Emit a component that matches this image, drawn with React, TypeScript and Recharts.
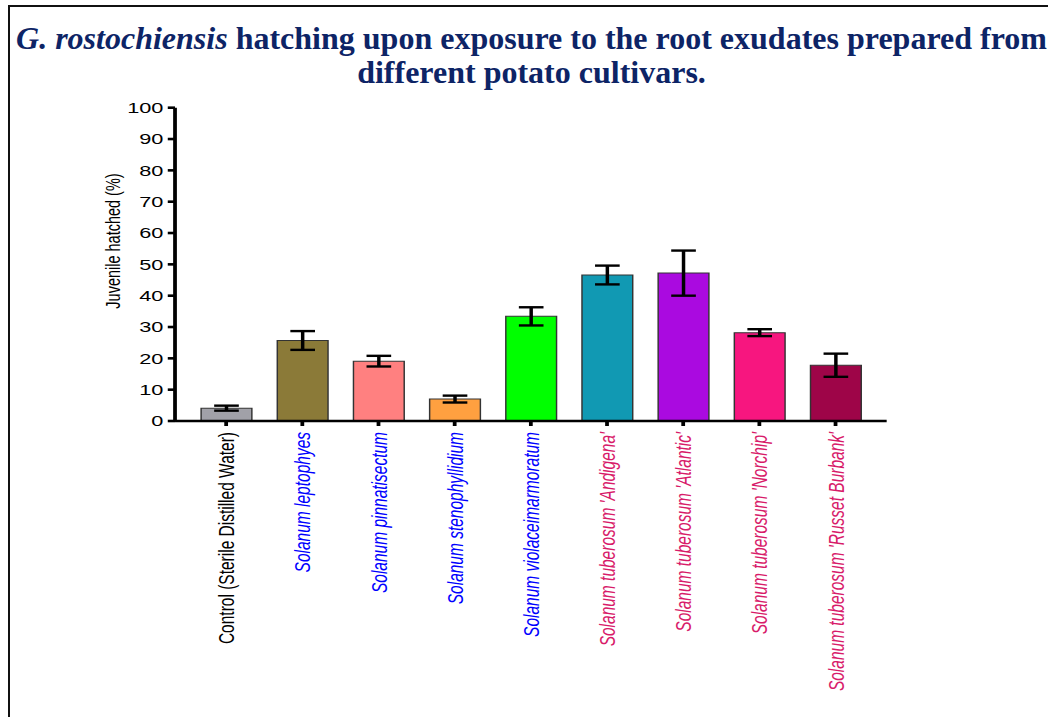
import React from "react";
import { BarChart, Bar, Cell, XAxis, YAxis, ErrorBar } from "recharts";

// Hatching data: mean % juveniles hatched and the error (± SEM) per exudate source.
const SPECIES = [
  "Control (Sterile Distilled Water)",
  "Solanum leptophyes",
  "Solanum pinnatisectum",
  "Solanum stenophyllidium",
  "Solanum violaceimarmoratum",
  "Solanum tuberosum 'Andigena'",
  "Solanum tuberosum 'Atlantic'",
  "Solanum tuberosum 'Norchip'",
  "Solanum tuberosum 'Russet Burbank'",
];
const HATCHED = [4.1, 25.7, 19.1, 7.0, 33.4, 46.6, 47.2, 28.2, 17.8];
const HATCHED_ERR = [0.8, 3.0, 1.7, 1.1, 2.9, 3.0, 7.2, 1.1, 3.7];
const Y_TICKS = [0, 10, 20, 30, 40, 50, 60, 70, 80, 90, 100];

const BAR_COLORS = [
  "#a1a1a8",
  "#8b7a38",
  "#ff8080",
  "#ffa040",
  "#00ff00",
  "#1199b3",
  "#aa0ae0",
  "#f7167f",
  "#9e0548",
];
// control in black, wild species in blue, cultivars in crimson
const LABEL_COLORS = [
  "#000000",
  "#0000ff",
  "#0000ff",
  "#0000ff",
  "#0000ff",
  "#d81b6a",
  "#d81b6a",
  "#d81b6a",
  "#d81b6a",
];

const data = SPECIES.map((name, i) => ({
  name,
  hatched: HATCHED[i],
  err: HATCHED_ERR[i],
}));

// the chart is drawn narrow and stretched sideways
const STRETCH = 1.45;
const W = 723;
const H = 717;

function SpeciesTick(props: any) {
  const { x, y, payload, index } = props;
  const ty = y + 4;
  return (
    <text
      x={x}
      y={ty}
      dy="0.36em"
      transform={`rotate(-90, ${x}, ${ty})`}
      textAnchor="end"
      fontSize={15.5}
      fontFamily="'Liberation Sans', Arial, sans-serif"
      fontStyle={index === 0 ? "normal" : "italic"}
      fill={LABEL_COLORS[index]}
    >
      {payload.value}
    </text>
  );
}

export default function App() {
  return (
    <div
      style={{
        position: "fixed",
        left: 0,
        top: 0,
        width: 1048,
        height: H,
        overflow: "hidden",
        background: "#fff",
      }}
    >
      <div
        style={{
          position: "absolute",
          left: 8,
          top: 5,
          width: 1100,
          height: H,
          borderTop: "2px solid #111",
          borderLeft: "2px solid #111",
        }}
      />
      <div
        style={{
          position: "absolute",
          left: 0,
          top: 21,
          width: 1063,
          textAlign: "center",
          whiteSpace: "nowrap",
          fontFamily: "'Liberation Serif', 'Times New Roman', serif",
          fontWeight: "bold",
          fontSize: 32,
          lineHeight: "34px",
          color: "#0d2466",
        }}
      >
        <i>G. rostochiensis</i> hatching upon exposure to the root exudates
        prepared from
        <br />
        different potato cultivars.
      </div>
      <div
        style={{
          position: "absolute",
          left: 0,
          top: 0,
          width: W,
          height: H,
          transform: `scaleX(${STRETCH})`,
          transformOrigin: "0 0",
        }}
      >
        <BarChart
          width={W}
          height={H}
          data={data}
          margin={{ top: 107.7, right: 111.5, left: 0, bottom: 0 }}
        >
          <YAxis
            width={120.7}
            domain={[0, 100]}
            ticks={Y_TICKS}
            interval={0}
            tickSize={5}
            tickMargin={3}
            stroke="#000"
            strokeWidth={2.6}
            tick={{
              fill: "#000",
              fontSize: 15,
              fontFamily: "'Liberation Sans', Arial, sans-serif",
            }}
            label={{
              content: () => (
                <text
                  x={78}
                  y={241}
                  transform="rotate(-90, 78, 241)"
                  textAnchor="middle"
                  dy="0.35em"
                  fontSize={14.5}
                  fontFamily="'Liberation Sans', Arial, sans-serif"
                  fill="#000"
                >
                  Juvenile hatched (%)
                </text>
              ),
            }}
          />
          <XAxis
            dataKey="name"
            height={296}
            interval={0}
            tickSize={5}
            padding={{ left: 9, right: 9 }}
            stroke="#000"
            strokeWidth={2.6}
            tick={<SpeciesTick />}
          />
          <Bar
            dataKey="hatched"
            barSize={35}
            stroke="#333"
            strokeWidth={1}
            isAnimationActive={false}
          >
            {data.map((d, i) => (
              <Cell key={d.name} fill={BAR_COLORS[i]} />
            ))}
            <ErrorBar
              dataKey="err"
              width={8.5}
              stroke="#000"
              strokeWidth={2.4}
              direction="y"
            />
          </Bar>
        </BarChart>
      </div>
    </div>
  );
}
